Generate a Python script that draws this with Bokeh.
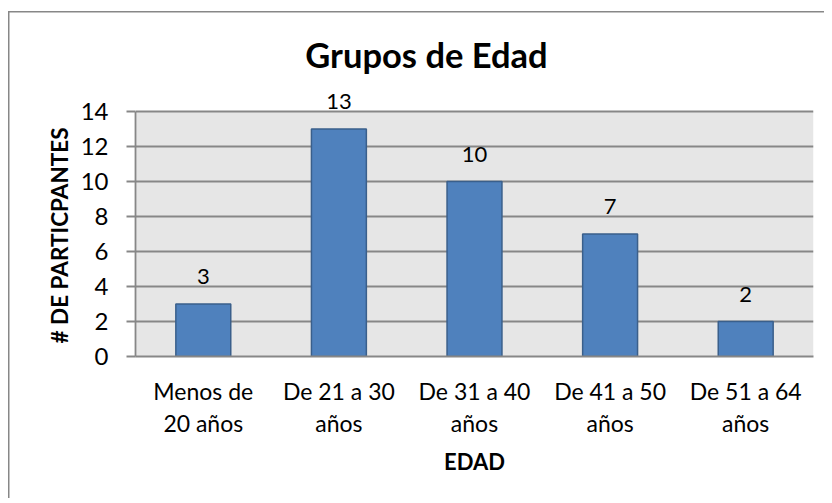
from bokeh.plotting import figure
from bokeh.models import FactorRange, FixedTicker, ColumnDataSource, LabelSet, Label, BoxAnnotation, Range1d, Title
from bokeh.core.properties import value
from bokeh.embed import file_html
from bokeh.resources import INLINE

categories = ["Menos de\n20 años", "De 21 a 30\naños", "De 31 a 40\naños", "De 41 a 50\naños", "De 51 a 64\naños"]
values = [3, 13, 10, 7, 2]
y_ticks = [0, 2, 4, 6, 8, 10, 12, 14]
title_text = "Grupos de Edad"
x_label = "EDAD"
y_label = "# DE PARTICPANTES"

FONT = "Lato"
GRID = "#878787"
Y_MAX = 14

src = ColumnDataSource(dict(cat=categories, val=values, txt=[str(v) for v in values]))

p = figure(width=816, height=487, x_range=FactorRange(factors=categories, range_padding=0),
           y_range=Range1d(0, 19.6), output_backend="svg", toolbar_location=None,
           min_border_left=127, min_border_right=11, min_border_top=2, min_border_bottom=142)
p.margin = (11, 0, 0, 8)
p.styles = {"box-shadow": "inset 1.5px 1.5px 0 0 #878787"}

p.background_fill_color = None
p.border_fill_color = None
p.outline_line_color = None

# plot area (gray) limited to the value axis range 0..14
p.add_layout(BoxAnnotation(bottom=0, top=Y_MAX, fill_color="#E6E6E6", fill_alpha=1,
                           line_color=None, level="image"))

p.vbar(x="cat", top="val", width=0.405, source=src, fill_color="#4F81BD",
       line_color="#3A5F8B", line_width=1.5)

labels = LabelSet(x="cat", y="val", text="txt", source=src, text_align="center",
                  text_baseline="alphabetic", y_offset=20, text_font=value(FONT),
                  text_font_size="22px", text_color="black")
p.add_layout(labels)

# grid
p.xgrid.grid_line_color = None
p.ygrid.grid_line_color = GRID
p.ygrid.grid_line_width = 1.8
p.yaxis.ticker = FixedTicker(ticks=y_ticks)

# y axis
p.yaxis.bounds = (0, Y_MAX)
p.yaxis.axis_line_color = GRID
p.yaxis.axis_line_width = 1.8
p.yaxis.major_tick_line_color = GRID
p.yaxis.major_tick_line_width = 1.8
p.yaxis.major_tick_out = 9
p.yaxis.major_tick_in = 0
p.yaxis.minor_tick_line_color = None
p.yaxis.major_label_standoff = 18
p.yaxis.major_label_text_font = FONT
p.yaxis.major_label_text_font_size = "24px"
p.yaxis.major_label_text_color = "black"

# y axis title (placed beside the 0..14 part of the axis)
p.add_layout(Title(text=y_label, align="left", offset=13, text_font=FONT,
                   text_font_style="bold", text_font_size="22.5px", text_color="black",
                   standoff=9), "left")

# x axis
p.xaxis.axis_line_color = GRID
p.xaxis.axis_line_width = 1.8
p.xaxis.major_tick_line_color = None
p.xaxis.minor_tick_line_color = None
p.xaxis.major_label_standoff = 14
p.xaxis.major_label_text_font = FONT
p.xaxis.major_label_text_font_size = "23px"
p.xaxis.major_label_text_color = "black"
p.xaxis.major_label_text_line_height = 1.16
p.xaxis.axis_label = x_label
p.xaxis.axis_label_text_font = FONT
p.xaxis.axis_label_text_font_style = "bold"
p.xaxis.axis_label_text_font_size = "22px"
p.xaxis.axis_label_text_color = "black"
p.xaxis.axis_label_standoff = 8

# title
p.add_layout(Label(x=2.146, y=17.257, text=title_text,
                   text_font=FONT, text_font_style="bold", text_font_size="34.5px",
                   text_align="center", text_baseline="alphabetic", text_color="black"))

open("out.html", "w").write(file_html(p, INLINE))
